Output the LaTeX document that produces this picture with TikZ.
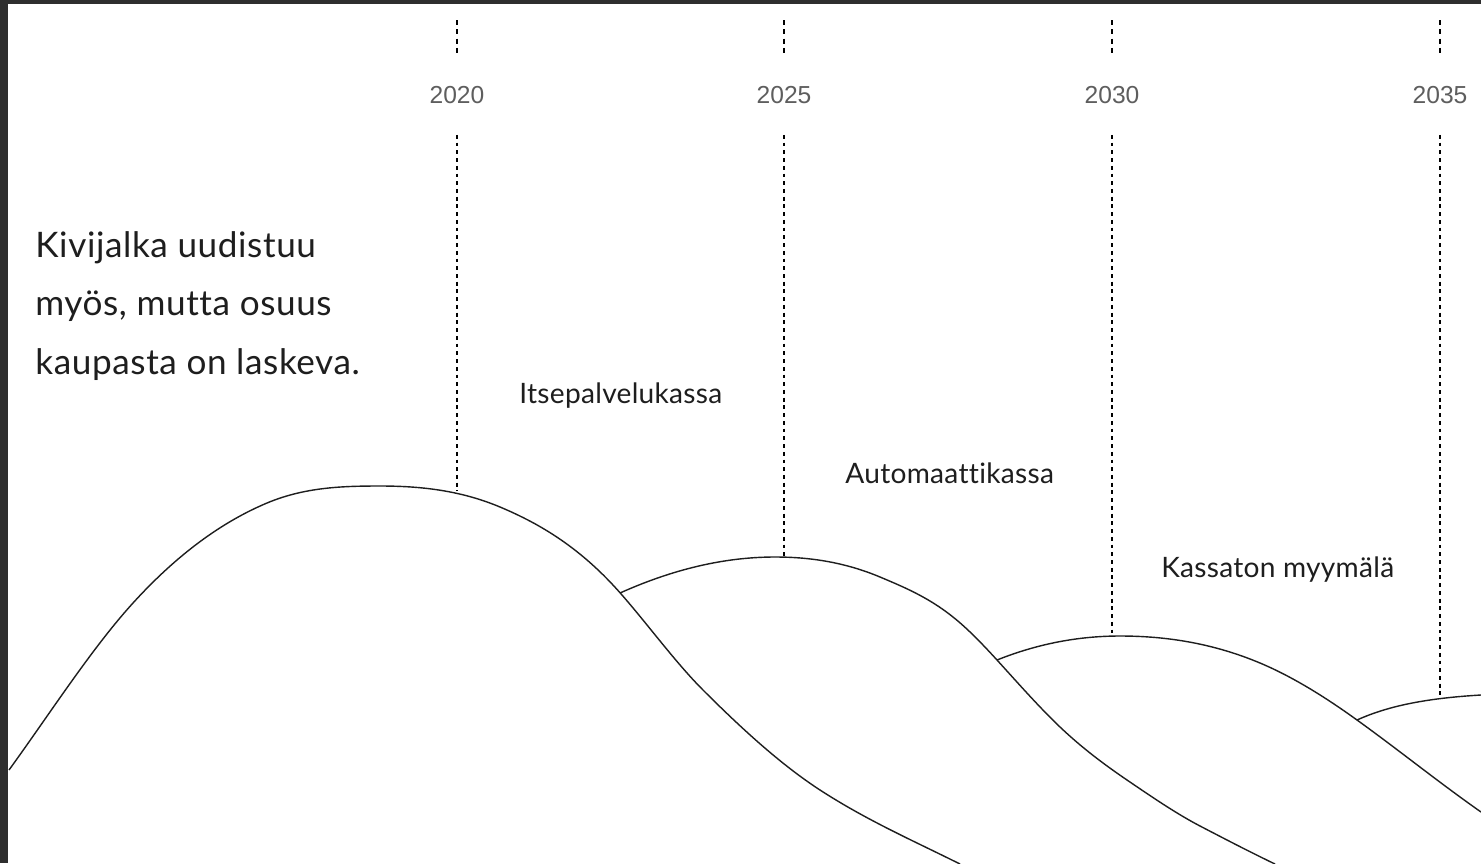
\documentclass[tikz,border=0pt]{standalone}
\usepackage{fontspec}
\setmainfont{Lato}[Ligatures=NoCommon]
\newfontfamily\yearfont{Liberation Sans}
\definecolor{framegray}{HTML}{2E2E2E}
\definecolor{yeargray}{HTML}{5E5E5E}
\definecolor{inkblack}{HTML}{1E1E1E}
\tikzset{
  year/.style={font=\yearfont\fontsize{14}{16}\selectfont, text=yeargray,
               minimum height=1.58cm, inner sep=0pt},
  tick/.style={draw=black, line width=1.3pt, dash pattern=on 2.8pt off 2.5pt},
  marker/.style={draw=black, line width=1.1pt, dash pattern=on 2.2pt off 2.2pt},
  wave/.style={draw=inkblack, line width=0.8pt},
  stage/.style={font=\fontsize{16}{18}\selectfont\addfontfeature{LetterSpace=1.0},
                text=inkblack, anchor=base west, inner sep=0pt},
}

\begin{document}
\begin{tikzpicture}[x=0.02cm, y=-0.02cm]
\useasboundingbox (0,0) rectangle (1481,863);
\fill[framegray] (0,0) rectangle (1481,863);
\fill[white] (8,4) rectangle (1481,863);

% intro text (base = last line)
\node[anchor=base west, align=left, inner sep=0pt, text=inkblack,
      font=\fontsize{20}{33.2}\selectfont\addfontfeature{LetterSpace=1.7}]
      (intro) at (35,374)
      {Kivijalka uudistuu\\ myös, mutta osuus\\ kaupasta on laskeva.};

% years
\node[year] (y2020) at (457,95) {2020};
\node[year] (y2025) at (784,95) {2025};
\node[year] (y2030) at (1112,95) {2030};
\node[year] (y2035) at (1440,95) {2035};
\coordinate (t2020) at (457,20);
\coordinate (t2025) at (784,20);
\coordinate (t2030) at (1112,20);
\coordinate (t2035) at (1440,20);
\coordinate (b2020) at (457,491);
\coordinate (b2025) at (784,557);
\coordinate (b2030) at (1112,636);
\coordinate (b2035) at (1440,698);
\draw[tick] (t2020) -- (y2020.north);
\draw[tick] (t2025) -- (y2025.north);
\draw[tick] (t2030) -- (y2030.north);
\draw[tick] (t2035) -- (y2035.north);
\draw[marker] (y2020.south) -- (b2020);
\draw[marker] (y2025.south) -- (b2025);
\draw[marker] (y2030.south) -- (b2030);
\draw[marker] (y2035.south) -- (b2035);

% stages
\node[stage] (self) at (519,403) {Itsepalvelukassa};
\node[stage] (auto) at (845,483) {Automaattikassa};
\node[stage] (free) at (1161,577) {Kassaton myymälä};

% waves
\begin{scope}
\clip (8,4) rectangle (1481,863);
\draw[wave] (9,770) .. controls (50.3,713) and (91.7,648.4) .. (133,603)
  .. controls (177.7,553.9) and (222.3,521.8) .. (267,503)
  .. controls (304.7,487.2) and (342.3,486) .. (380,486)
  .. controls (420,486) and (460,490.2) .. (500,507)
  .. controls (540.7,524.1) and (581.3,548.2) .. (622,595)
  .. controls (649,626) and (676,663) .. (703,690)
  .. controls (742,729) and (781,764.6) .. (820,790)
  .. controls (866.7,820.3) and (913.3,840.7) .. (960,864);
\draw[wave] (620,593) .. controls (671.7,569.8) and (723.3,557) .. (775,557)
  .. controls (810,557) and (845,562.3) .. (880,577)
  .. controls (904.3,587.2) and (928.7,597.5) .. (953,617)
  .. controls (967.7,628.7) and (982.3,643.9) .. (997,660)
  .. controls (1018,683.1) and (1039,707) .. (1060,727)
  .. controls (1082.3,748.2) and (1104.7,764.8) .. (1127,780)
  .. controls (1151.3,796.5) and (1175.7,813.3) .. (1200,826)
  .. controls (1225,839) and (1250,852) .. (1275,864);
\draw[wave] (997,660) .. controls (1038,643.6) and (1079,636) .. (1120,636)
  .. controls (1166.7,636) and (1213.3,643.4) .. (1260,663)
  .. controls (1292.3,676.6) and (1324.7,696.7) .. (1357,720)
  .. controls (1398.3,749.7) and (1439.7,783.1) .. (1481,812);
\draw[wave] (1357,720) .. controls (1390,705) and (1430,698) .. (1481,695);
\end{scope}
\end{tikzpicture}
\end{document}
